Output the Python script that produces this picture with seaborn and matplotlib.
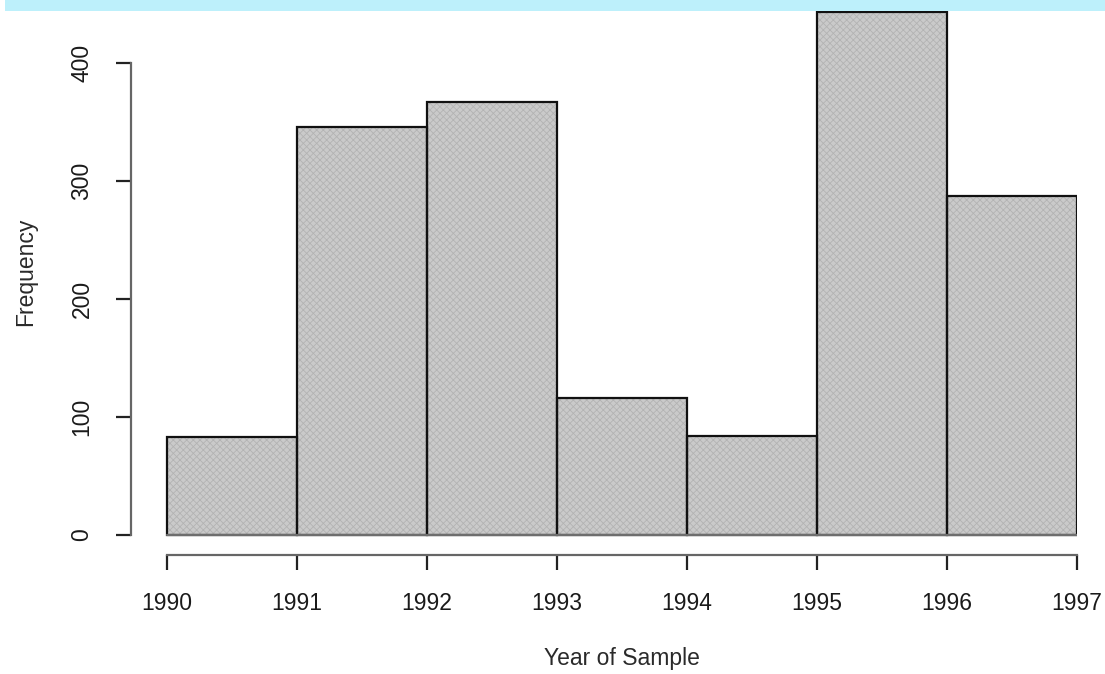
import numpy as np
import pandas as pd
import matplotlib
matplotlib.use("Agg")
import matplotlib.pyplot as plt
from matplotlib.patches import Rectangle
import seaborn as sns

# Samples per year (histogram counts)
years = [1990, 1991, 1992, 1993, 1994, 1995, 1996]
counts = [83, 346, 367, 116, 84, 443, 287]
bin_edges = [1990, 1991, 1992, 1993, 1994, 1995, 1996, 1997]
y_ticks = [0, 100, 200, 300, 400]

sns.set_theme(style="white")
plt.rcParams["font.family"] = ["Liberation Sans", "DejaVu Sans"]
plt.rcParams["hatch.linewidth"] = 0.6

W, H = 1105, 674
fig = plt.figure(figsize=(W / 100, H / 100), dpi=100)
fig.patch.set_facecolor("white")

# Pale blue band along the top edge
fig.patches.append(Rectangle((5 / W, 1 - 11 / H), 1 - 5 / W, 11 / H,
                             transform=fig.transFigure, facecolor="#bdf0fb",
                             edgecolor="none", zorder=0))

left_px, right_px, top_px, bottom_px = 131, 1077, 11, 555
ax = fig.add_axes([left_px / W, 1 - bottom_px / H,
                   (right_px - left_px) / W, (bottom_px - top_px) / H])
ax.set_facecolor("none")

df = pd.DataFrame({"year": np.array(years) + 0.5, "n": counts})
# textured fill
sns.histplot(data=df, x="year", weights="n", bins=bin_edges, ax=ax,
             color="#cacaca", alpha=1, edgecolor="#b3b3b3", linewidth=0,
             hatch="xxxxx")
# outlines
sns.histplot(data=df, x="year", weights="n", bins=bin_edges, ax=ax,
             fill=False, element="bars", color="#111111", linewidth=1.6)

px_per_year = 130.0
px_per_unit = 1.18
ax.set_xlim(1990 - (167 - left_px) / px_per_year, 1997)
ax.set_ylim(-(bottom_px - 535) / px_per_unit, (535 - top_px) / px_per_unit)

# Baseline under the bars
ax.plot([1990, 1997], [0, 0], color="#6e6e6e", linewidth=1.6, zorder=3)

for s in ["top", "right"]:
    ax.spines[s].set_visible(False)
for s in ["left", "bottom"]:
    ax.spines[s].set_color("#666666")
    ax.spines[s].set_linewidth(1.6)
ax.spines["left"].set_bounds(0, 400)
ax.spines["bottom"].set_bounds(1990, 1997)

ax.set_xticks(bin_edges)
ax.set_xticklabels([str(b) for b in bin_edges])
ax.set_yticks(y_ticks)
ax.set_yticklabels([str(t) for t in y_ticks], rotation=90, va="center")
ax.tick_params(axis="both", which="both", direction="out", length=11,
               width=1.6, color="#222222", labelsize=16.5, labelcolor="#1a1a1a",
               left=True, bottom=True)
ax.tick_params(axis="x", pad=16)
ax.tick_params(axis="y", pad=16)

ax.set_xlabel("Year of Sample", fontsize=16.5, color="#2a2a2a")
ax.set_ylabel("Frequency", fontsize=16.5, color="#2a2a2a")
ax_w = right_px - left_px
ax_h = bottom_px - top_px
ax.xaxis.set_label_coords((622 - left_px) / ax_w, (bottom_px - 659) / ax_h)
ax.xaxis.label.set_va("center")
ax.yaxis.set_label_coords((26 - left_px) / ax_w, (bottom_px - 272) / ax_h)
ax.yaxis.label.set_va("center")
ax.grid(False)

fig.savefig("out.png", dpi=100)
